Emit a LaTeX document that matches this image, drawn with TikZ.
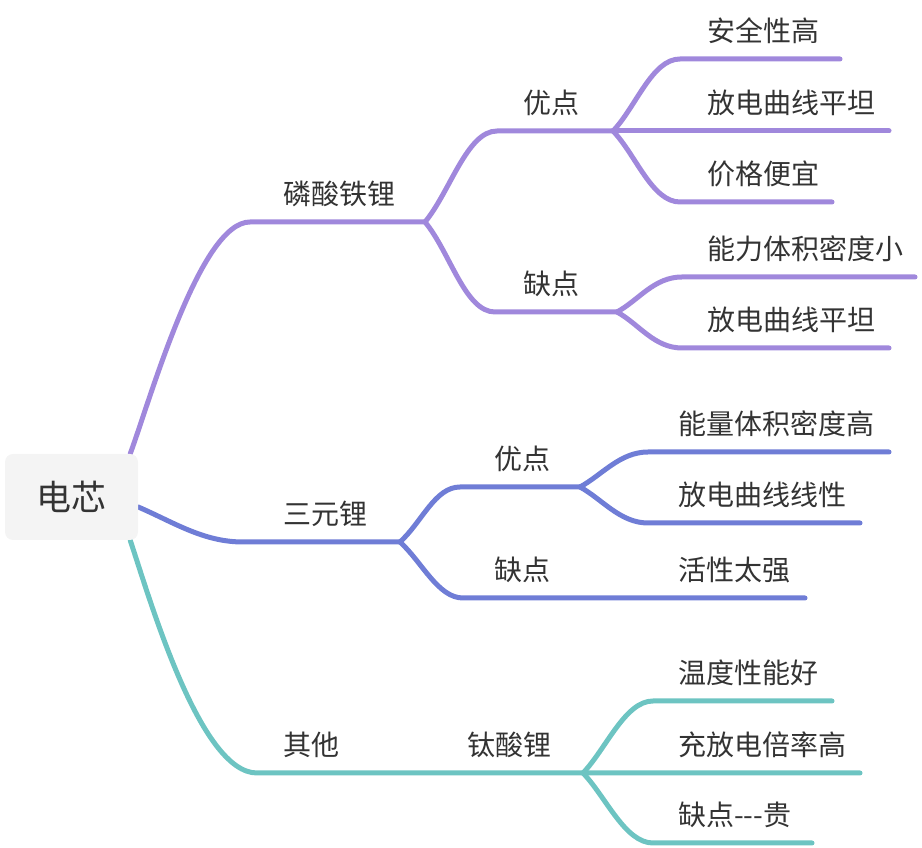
\documentclass[tikz,border=0pt]{standalone}
\usepackage{fontspec}
\newfontfamily\cjk{Noto Sans CJK SC}
\usetikzlibrary{backgrounds}
\definecolor{lfpcol}{HTML}{A088DC}
\definecolor{ncmcol}{HTML}{6F7DD6}
\definecolor{othcol}{HTML}{6DC4C2}
\definecolor{textgray}{HTML}{333333}
\definecolor{rootfill}{HTML}{F4F4F4}
\tikzset{
  topic/.style={anchor=base west, inner sep=0pt, text=textgray, font=\cjk\fontsize{28}{28}\selectfont},
  branch/.style={line width=5pt, line cap=round},
}
\begin{document}
\begin{tikzpicture}[x=1pt, y=1pt]
\useasboundingbox (0,0) rectangle (922,848);

\node[rectangle, rounded corners=8pt, fill=rootfill, minimum width=133pt, minimum height=86pt, text=textgray, font=\cjk\fontsize{35}{35}\selectfont] (n0) at (71.5,351) {电芯};

\node[topic] (n11) at (283,643) {磷酸铁锂};
\node[topic] (n12) at (283,323) {三元锂};
\node[topic] (n13) at (283,92) {其他};

\node[topic] (n21) at (523,734) {优点};
\node[topic] (n22) at (523,553) {缺点};
\node[topic] (n23) at (494,378) {优点};
\node[topic] (n24) at (494,267) {缺点};
\node[topic] (n25) at (467,92) {钛酸锂};

\node[topic] (n31) at (707,806) {安全性高};
\node[topic] (n32) at (707,734) {放电曲线平坦};
\node[topic] (n33) at (707,663) {价格便宜};
\node[topic] (n34) at (707,588) {能力体积密度小};
\node[topic] (n35) at (707,517) {放电曲线平坦};
\node[topic] (n36) at (678,413) {能量体积密度高};
\node[topic] (n37) at (678,342) {放电曲线线性};
\node[topic] (n38) at (678,267) {活性太强};
\node[topic] (n39) at (678,164) {温度性能好};
\node[topic] (n310) at (678,92) {充放电倍率高};
\node[topic] (n311) at (678,22) {缺点-\kern0pt-\kern0pt-贵};

\coordinate (n11s) at (250,626);
\coordinate (n11e) at (425,626);
\coordinate (n12s) at (243,306);
\coordinate (n12e) at (400,306);
\coordinate (n13s) at (257,75);

\coordinate (n21s) at (497,717);
\coordinate (n21e) at (613,717);
\coordinate (n22s) at (495,536);
\coordinate (n22e) at (617,536);
\coordinate (n23s) at (460,361);
\coordinate (n23e) at (580,361);
\coordinate (n24s) at (463,250);
\coordinate (n24e) at (650,250);
\coordinate (n25e) at (583,75);

\coordinate (n31s) at (680,789);
\coordinate (n31e) at (840,789);
\coordinate (n32e) at (889,717);
\coordinate (n33s) at (680,646);
\coordinate (n33e) at (832,646);
\coordinate (n34s) at (682,571);
\coordinate (n34e) at (915,571);
\coordinate (n35s) at (682,500);
\coordinate (n35e) at (889,500);
\coordinate (n36s) at (648,396);
\coordinate (n36e) at (889,396);
\coordinate (n37s) at (648,325);
\coordinate (n37e) at (860,325);
\coordinate (n38e) at (805,250);
\coordinate (n39s) at (653,147);
\coordinate (n39e) at (832,147);
\coordinate (n310e) at (860,75);
\coordinate (n311s) at (653,5);
\coordinate (n311e) at (812,5);

\begin{scope}[on background layer]
\draw[branch, lfpcol] ([xshift=-8pt]n0.north east) .. controls +(20,54) and +(-50,0) .. (n11s) -- (n11e);
\draw[branch, lfpcol] (n11e) .. controls +(25,30) and +(-30,0) .. (n21s) -- (n21e);
\draw[branch, lfpcol] (n11e) .. controls +(25,-30) and +(-30,0) .. (n22s) -- (n22e);
\draw[branch, lfpcol] (n21e) .. controls +(23,24) and +(-28,0) .. (n31s) -- (n31e);
\draw[branch, lfpcol] (n21e) -- (n32e);
\draw[branch, lfpcol] (n21e) .. controls +(23,-24) and +(-28,0) .. (n33s) -- (n33e);
\draw[branch, lfpcol] (n22e) .. controls +(22,12) and +(-28,0) .. (n34s) -- (n34e);
\draw[branch, lfpcol] (n22e) .. controls +(22,-12) and +(-28,0) .. (n35s) -- (n35e);

\draw[branch, ncmcol] ([yshift=-10pt]n0.east) .. controls +(35,-15) and +(-40,0) .. (n12s) -- (n12e);
\draw[branch, ncmcol] (n12e) .. controls +(22,20) and +(-25,0) .. (n23s) -- (n23e);
\draw[branch, ncmcol] (n12e) .. controls +(22,-20) and +(-25,0) .. (n24s) -- (n24e) -- (n38e);
\draw[branch, ncmcol] (n23e) .. controls +(22,12) and +(-28,0) .. (n36s) -- (n36e);
\draw[branch, ncmcol] (n23e) .. controls +(22,-12) and +(-28,0) .. (n37s) -- (n37e);

\draw[branch, othcol] ([xshift=-8pt]n0.south east) .. controls +(20,-60) and +(-57,0) .. (n13s) -- (n25e) -- (n310e);
\draw[branch, othcol] (n25e) .. controls +(23,24) and +(-28,0) .. (n39s) -- (n39e);
\draw[branch, othcol] (n25e) .. controls +(23,-24) and +(-28,0) .. (n311s) -- (n311e);
\end{scope}
\end{tikzpicture}
\end{document}
